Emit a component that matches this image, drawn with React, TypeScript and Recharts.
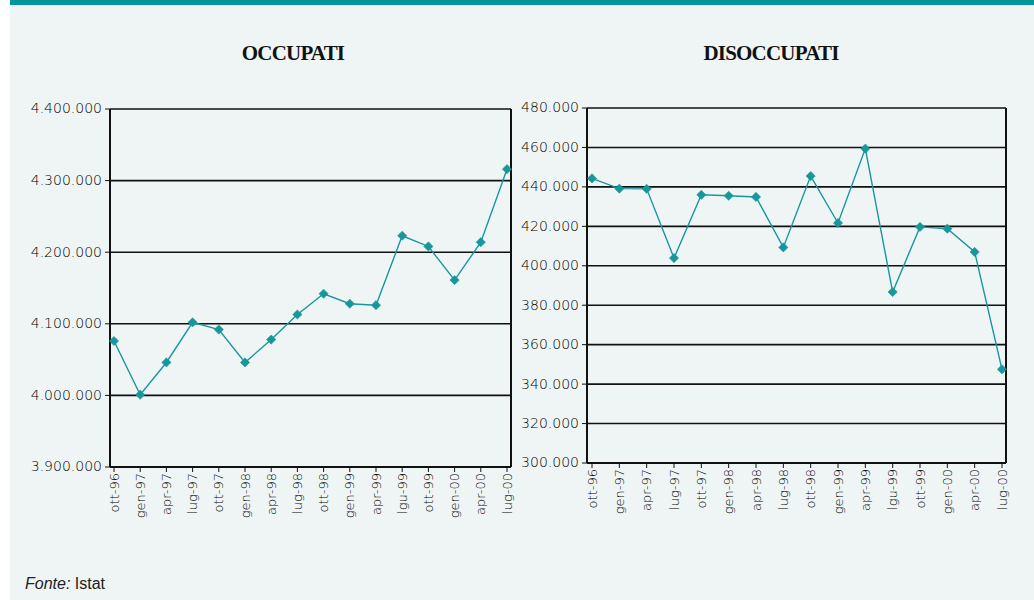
import React from 'react';
import { LineChart, Line, XAxis, YAxis, CartesianGrid } from 'recharts';

const categories = ['ott-96', 'gen-97', 'apr-97', 'lug-97', 'ott-97', 'gen-98', 'apr-98', 'lug-98', 'ott-98', 'gen-99', 'apr-99', 'lgu-99', 'ott-99', 'gen-00', 'apr-00', 'lug-00'];
const occupati = [4076000, 4001000, 4046000, 4102000, 4092000, 4046000, 4078000, 4113000, 4142000, 4128000, 4126000, 4223000, 4208000, 4161000, 4214000, 4316000];
const disoccupati = [444300, 439100, 439000, 403900, 436000, 435500, 434900, 409300, 445500, 421700, 459400, 386700, 419700, 418800, 407000, 347500];
const occTicks = [3900000, 4000000, 4100000, 4200000, 4300000, 4400000];
const disTicks = [300000, 320000, 340000, 360000, 380000, 400000, 420000, 440000, 460000, 480000];

const occData = categories.map((c, i) => ({ cat: c, v: occupati[i] }));
const disData = categories.map((c, i) => ({ cat: c, v: disoccupati[i] }));

const TEAL = '#17979c';
const BG = '#eff5f5';
const TICK_FONT = '"DejaVu Sans", sans-serif';

const fmt = (v: number) => String(Math.round(v)).replace(/\B(?=(\d{3})+(?!\d))/g, '.');

const Diamond = (props: any) => {
  const { cx, cy, index } = props;
  if (cx == null || cy == null) return null;
  const r = 4.6;
  return <path key={index} d={`M${cx},${cy - r}L${cx + r},${cy}L${cx},${cy + r}L${cx - r},${cy}Z`} fill={TEAL} stroke={TEAL} strokeWidth={0.6} />;
};

const XTick = (props: any) => {
  const { x, y, payload } = props;
  return (
    <text
      x={x}
      y={y}
      dy="0.36em"
      transform={`rotate(-90, ${x}, ${y})`}
      textAnchor="end"
      fontFamily={TICK_FONT}
      fontWeight={200}
      fontSize={13}
      fill="#000"
    >
      {payload.value}
    </text>
  );
};

const YTick = (props: any) => {
  const { x, y, payload } = props;
  return (
    <text x={x} y={y} dy="0.32em" textAnchor="end" fontFamily={TICK_FONT} fontWeight={200} fontSize={14} fill="#000">
      {fmt(payload.value)}
    </text>
  );
};

const edgeGen = (p: any) => {
  const o = p.offset || {};
  const left = o.left;
  const w = o.width != null ? o.width : p.width - o.left - o.right;
  return [left, left + w];
};

const Panel = (props: { data: any[]; ticks: number[]; yWidth: number; mRight: number; mTop: number; xHeight: number; width: number; pad: { left: number; right: number } }) => {
  const { data, ticks, yWidth, mRight, mTop, xHeight, width, pad } = props;
  return (
    <LineChart width={width} height={600} data={data} margin={{ top: mTop, right: mRight, left: 0, bottom: 0 }}>
      <CartesianGrid vertical={false} stroke="#111" strokeWidth={1.6} fill="none" />
      <CartesianGrid horizontal={false} stroke="#111" strokeWidth={2} verticalCoordinatesGenerator={edgeGen} fill="none" />
      <XAxis
        dataKey="cat"
        type="category"
        interval={0}
        height={xHeight}
        padding={pad}
        tick={<XTick />}
        tickSize={5}
        tickMargin={1}
        tickLine={{ stroke: '#111', strokeWidth: 1 }}
        axisLine={{ stroke: '#111', strokeWidth: 2 }}
      />
      <YAxis
        type="number"
        domain={[ticks[0], ticks[ticks.length - 1]]}
        ticks={ticks}
        allowDataOverflow
        width={yWidth}
        tick={<YTick />}
        tickSize={5}
        tickMargin={3}
        tickLine={{ stroke: '#111', strokeWidth: 1 }}
        axisLine={{ stroke: '#111', strokeWidth: 2 }}
      />
      <Line type="linear" dataKey="v" stroke={TEAL} strokeWidth={1.4} dot={<Diamond />} activeDot={false} isAnimationActive={false} />
    </LineChart>
  );
};

const titleStyle: React.CSSProperties = {
  position: 'absolute',
  top: 40,
  fontFamily: '"Liberation Serif", "Times New Roman", serif',
  fontWeight: 'bold',
  fontSize: 21,
  letterSpacing: -0.8,
  color: '#111',
  textAlign: 'center',
  width: 300,
  lineHeight: '26px',
};

export default function App() {
  return (
    <div style={{ position: 'absolute', left: 0, top: 0, width: 1034, height: 600, background: '#fff', overflow: 'hidden' }}>
      <div style={{ position: 'absolute', left: 10, top: 0, width: 1024, height: 600, background: BG }} />
      <div style={{ position: 'absolute', left: 10, top: 0, width: 1024, height: 5, background: '#00959a' }} />
      <div style={{ ...titleStyle, left: 293 - 150 }}>OCCUPATI</div>
      <div style={{ ...titleStyle, left: 771 - 150 }}>DISOCCUPATI</div>
      <div style={{ position: 'absolute', left: 0, top: 0 }}>
        <Panel data={occData} ticks={occTicks} yWidth={110} mRight={9} mTop={109} xHeight={133} width={520} pad={{ left: 4, right: 4 }} />
      </div>
      <div style={{ position: 'absolute', left: 520, top: 0 }}>
        <Panel data={disData} ticks={disTicks} yWidth={67} mRight={28} mTop={108} xHeight={137} width={514} pad={{ left: 5, right: 4 }} />
      </div>
      <div style={{ position: 'absolute', left: 25, top: 574, fontFamily: '"Liberation Sans", Arial, sans-serif', fontSize: 16, color: '#222', lineHeight: '20px' }}>
        <i>Fonte:</i> Istat
      </div>
    </div>
  );
}
